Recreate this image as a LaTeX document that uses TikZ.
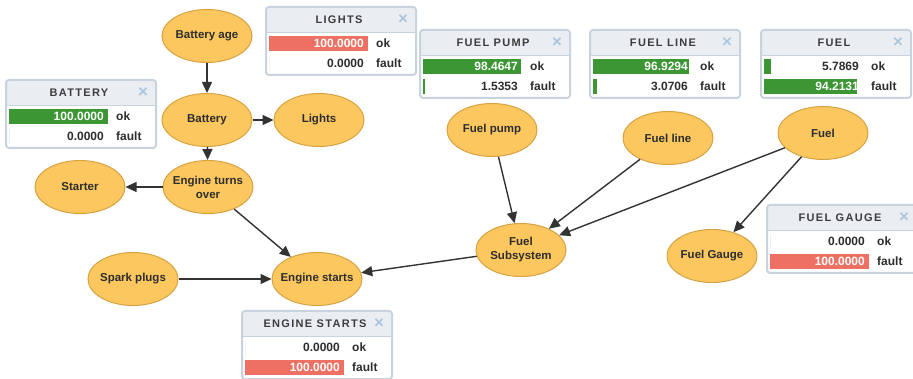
\documentclass[tikz,border=0pt]{standalone}
\usepackage{fontspec}
\setmainfont{Liberation Sans}
\newfontfamily\titlefont[LetterSpace=12]{Liberation Sans}
\usetikzlibrary{shapes.geometric,arrows.meta,positioning}

\definecolor{nodefill}{RGB}{252,199,94}
\definecolor{nodeline}{RGB}{214,162,66}
\definecolor{edgecol}{RGB}{51,51,51}
\definecolor{boxline}{RGB}{201,211,222}
\definecolor{boxhead}{RGB}{234,238,243}
\definecolor{barred}{RGB}{238,112,98}
\definecolor{bargreen}{RGB}{60,150,52}
\definecolor{closecol}{RGB}{172,198,222}
\definecolor{txtcol}{RGB}{45,45,45}
\definecolor{titlecol}{RGB}{60,60,60}

\tikzset{
  var/.style={ellipse, draw=nodeline, fill=nodefill, line width=1pt,
    minimum width=90pt, minimum height=53pt, inner xsep=-6pt, inner ysep=0pt,
    align=center, text=txtcol, font=\fontsize{11.5}{14}\selectfont\bfseries},
  link/.style={draw=edgecol, line width=1.4pt, -{Triangle[length=11pt,width=10pt]}},
  monbox/.style={draw=boxline, line width=2pt, rounded corners=3pt},
  monval/.style={inner sep=0pt, font=\fontsize{12}{14}\selectfont\bfseries}
}

% monitor window: name, left, top, title, ok value, ok bar, fault value, fault bar, bar colour
\newcommand{\monitor}[9]{%
  \begin{scope}[shift={(#2,#3)}]
    \ifdim#6pt>50pt\def\okcol{white}\else\def\okcol{txtcol}\fi
    \ifdim#8pt>50pt\def\faultcol{white}\else\def\faultcol{txtcol}\fi
    \begin{scope}
      \clip[rounded corners=3pt] (0,0) rectangle (150,68);
      \fill[white] (0,0) rectangle (150,68);
      \fill[boxhead] (0,0) rectangle (150,26);
    \end{scope}
    \draw[boxline, line width=1pt] (0,26) -- (150,26);
    \draw[monbox] (0,0) rectangle (150,68);
    \node[text=titlecol, font=\titlefont\bfseries\fontsize{11}{13}\selectfont] (#1-title) at (73,13) {#4};
    \node[text=closecol, font=\bfseries\fontsize{17}{17}\selectfont] (#1-close) at (137,13) {×};
    \fill[#9] (3,29) rectangle ++(#6,15);
    \fill[#9] (3,49) rectangle ++(#8,15);
    \node[monval, anchor=east, text=\okcol] (#1-okval) at (98,36.5) {#5};
    \node[monval, anchor=west, text=txtcol] (#1-ok) at (110,36.5) {ok};
    \node[monval, anchor=east, text=\faultcol] (#1-faultval) at (98,56.5) {#7};
    \node[monval, anchor=west, text=txtcol] (#1-fault) at (110,56.5) {fault};
  \end{scope}%
}

\begin{document}
\begin{tikzpicture}[x=1pt,y=-1pt]
\useasboundingbox (0,0) rectangle (913,379);
\fill[white] (0,0) rectangle (913,379);

% variables
\node[var] (age) at (207,36) {Battery age};
\node[var] (battery) at (207,120) {Battery};
\node[var] (lights) at (319,120) {Lights};
\node[var] (turns) at (208,187) {Engine turns\\over};
\node[var] (starter) at (80,187) {Starter};
\node[var] (spark) at (133,279) {Spark plugs};
\node[var] (starts) at (317,279) {Engine starts};
\node[var] (fuelpump) at (492,130) {Fuel pump};
\node[var] (fuelline) at (668,138) {Fuel line};
\node[var] (fuel) at (823,133) {Fuel};
\node[var] (subsys) at (521,250) {Fuel\\Subsystem};
\node[var] (gauge) at (712,256) {Fuel Gauge};

% links
\draw[link] (age) -- (battery);
\draw[link] (battery) -- (lights);
\draw[link] (battery) -- (turns);
\draw[link] (turns) -- (starter);
\draw[link] (turns) -- (starts);
\draw[link] (spark) -- (starts);
\draw[link] (subsys) -- (starts);
\draw[link] (fuelpump) -- (subsys);
\draw[link] (fuelline) -- (subsys);
\draw[link] (fuel) -- (subsys);
\draw[link] (fuel) -- (gauge);

% monitors
\monitor{mbattery}{6}{80}{BATTERY}{100.0000}{99}{0.0000}{0}{bargreen}
\monitor{mlights}{266}{7}{LIGHTS}{100.0000}{99}{0.0000}{0}{barred}
\monitor{mpump}{420}{30}{FUEL PUMP}{98.4647}{97.5}{1.5353}{2}{bargreen}
\monitor{mline}{590}{30}{FUEL LINE}{96.9294}{96}{3.0706}{4}{bargreen}
\monitor{mfuel}{761}{30}{FUEL}{5.7869}{7}{94.2131}{93.3}{bargreen}
\monitor{mgauge}{767}{205}{FUEL GAUGE}{0.0000}{0}{100.0000}{99}{barred}
\monitor{mstarts}{242}{311}{ENGINE STARTS}{0.0000}{0}{100.0000}{99}{barred}
\end{tikzpicture}
\end{document}
